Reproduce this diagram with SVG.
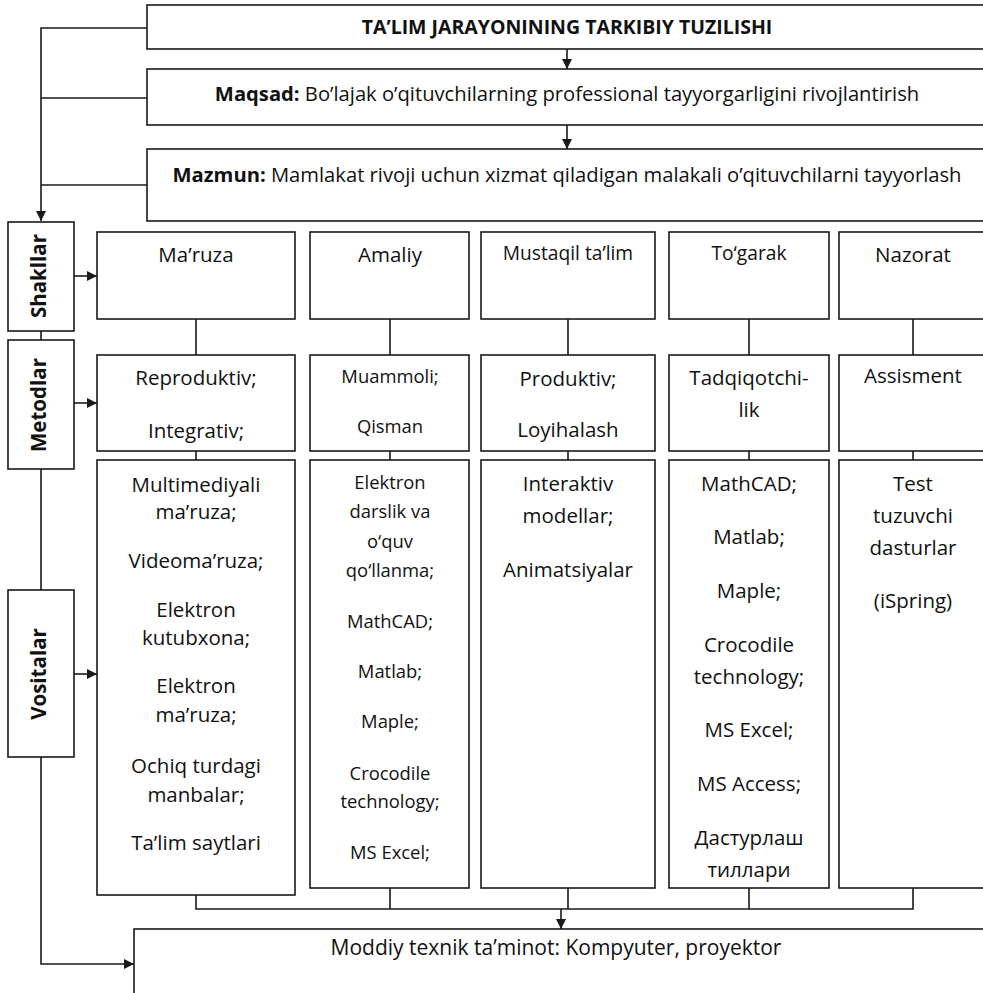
<svg xmlns="http://www.w3.org/2000/svg" width="983" height="993" viewBox="0 0 983 993">
<defs>
<marker id="ah" markerWidth="10" markerHeight="10" refX="10" refY="5" orient="auto" markerUnits="userSpaceOnUse" viewBox="0 0 10 10">
<path d="M0,0 L10,5 L0,10 z" fill="#1a1a1a"/>
</marker>
<style>
rect{fill:#fff;stroke:#1a1a1a;stroke-width:1.6}
.c{fill:none;stroke:#1a1a1a;stroke-width:1.6}
text{font-family:"Open Sans","Noto Sans","Liberation Sans",sans-serif;fill:#111;text-anchor:middle}
.t{font-size:20.5px}
.h{font-size:20.2px}
.s{font-size:18.4px}
.r{font-size:19.2px}
.b{font-weight:bold}
.l{font-size:20.5px;font-weight:bold}
</style>
</defs>
<rect width="983" height="993" style="fill:#fff;stroke:none"/>
<g id="connectors">
<path class="c" d="M147,28 H41 V221" marker-end="url(#ah)"/>
<path class="c" d="M147,98 H41"/>
<path class="c" d="M147,185 H41"/>
<path class="c" d="M567,49 V69" marker-end="url(#ah)"/>
<path class="c" d="M567,125 V149" marker-end="url(#ah)"/>
<path class="c" d="M41,331 V340"/>
<path class="c" d="M41,469 V590"/>
<path class="c" d="M41,757 V964 H134" marker-end="url(#ah)"/>
<path class="c" d="M74,276 H97" marker-end="url(#ah)"/>
<path class="c" d="M74,403 H97" marker-end="url(#ah)"/>
<path class="c" d="M74,674 H97" marker-end="url(#ah)"/>
<path class="c" d="M196,319 V355 M196,451 V460 M390,319 V355 M390,451 V460 M568,319 V355 M568,451 V460 M749,319 V355 M749,451 V460 M913,319 V355 M913,451 V460"/>
<path class="c" d="M196,895 V909 H913 V888 M390,888 V909 M568,888 V909 M749,888 V909"/>
<path class="c" d="M561,909 V929" marker-end="url(#ah)"/>
</g>
<g id="title">
<rect x="147" y="5" width="850" height="44"/>
<text class="b" x="567" y="34" style="font-size:19.5px">TA’LIM JARAYONINING TARKIBIY TUZILISHI</text>
</g>
<g id="maqsad">
<rect x="147" y="69" width="850" height="56"/>
<text class="h" x="567" y="101"><tspan class="b">Maqsad:</tspan> Bo’lajak o’qituvchilarning professional tayyorgarligini rivojlantirish</text>
</g>
<g id="mazmun">
<rect x="147" y="149" width="850" height="72"/>
<text class="h" x="567" y="182"><tspan class="b">Mazmun:</tspan> Mamlakat rivoji uchun xizmat qiladigan malakali o’qituvchilarni tayyorlash</text>
</g>
<g id="shakllar">
<rect x="8" y="222" width="66" height="109"/>
<text class="l" transform="translate(46,276) rotate(-90)">Shakllar</text>
</g>
<g id="metodlar">
<rect x="8" y="340" width="66" height="129"/>
<text class="l" transform="translate(46,405) rotate(-90)">Metodlar</text>
</g>
<g id="vositalar">
<rect x="8" y="590" width="66" height="167"/>
<text class="l" transform="translate(46,674) rotate(-90)">Vositalar</text>
</g>
<g id="maruza">
<rect x="97" y="232" width="198" height="87"/>
<text class="t" x="196" y="262">Ma’ruza</text>
</g>
<g id="amaliy">
<rect x="310" y="232" width="159" height="87"/>
<text class="t" x="390" y="262">Amaliy</text>
</g>
<g id="mustaqil">
<rect x="481" y="232" width="174" height="87"/>
<text class="r" x="568" y="260">Mustaqil ta’lim</text>
</g>
<g id="togarak">
<rect x="669" y="232" width="160" height="87"/>
<text class="r" x="749" y="260">To‘garak</text>
</g>
<g id="nazorat">
<rect x="839" y="232" width="155" height="87"/>
<text class="t" x="913" y="262">Nazorat</text>
</g>
<g id="m1">
<rect x="97" y="355" width="198" height="96"/>
<text class="t" x="196" y="385">Reproduktiv;</text>
<text class="t" x="196" y="438">Integrativ;</text>
</g>
<g id="m2">
<rect x="310" y="355" width="159" height="96"/>
<text class="s" x="390" y="383">Muammoli;</text>
<text class="s" x="390" y="433">Qisman</text>
</g>
<g id="m3">
<rect x="481" y="355" width="174" height="96"/>
<text class="t" x="568" y="386">Produktiv;</text>
<text class="t" x="568" y="437">Loyihalash</text>
</g>
<g id="m4">
<rect x="669" y="355" width="160" height="96"/>
<text class="t" x="749" y="385">Tadqiqotchi-</text>
<text class="t" x="749" y="417">lik</text>
</g>
<g id="m5">
<rect x="839" y="355" width="155" height="96"/>
<text class="t" x="913" y="383">Assisment</text>
</g>
<g id="v1">
<rect x="97" y="460" width="198" height="435"/>
<text class="t" x="196" y="492">Multimediyali</text>
<text class="t" x="196" y="519">ma’ruza;</text>
<text class="t" x="196" y="568">Videoma’ruza;</text>
<text class="t" x="196" y="617">Elektron</text>
<text class="t" x="196" y="645">kutubxona;</text>
<text class="t" x="196" y="693">Elektron</text>
<text class="t" x="196" y="722">ma’ruza;</text>
<text class="t" x="196" y="773">Ochiq turdagi</text>
<text class="t" x="196" y="802">manbalar;</text>
<text class="t" x="196" y="850">Ta’lim saytlari</text>
</g>
<g id="v2">
<rect x="310" y="460" width="159" height="428"/>
<text class="s" x="390" y="489">Elektron</text>
<text class="s" x="390" y="518">darslik va</text>
<text class="s" x="390" y="548">o‘quv</text>
<text class="s" x="390" y="577">qo‘llanma;</text>
<text class="s" x="390" y="628">MathCAD;</text>
<text class="s" x="390" y="678">Matlab;</text>
<text class="s" x="390" y="728">Maple;</text>
<text class="s" x="390" y="780">Crocodile</text>
<text class="s" x="390" y="808">technology;</text>
<text class="s" x="390" y="859">MS Excel;</text>
</g>
<g id="v3">
<rect x="481" y="460" width="174" height="428"/>
<text class="t" x="568" y="491">Interaktiv</text>
<text class="t" x="568" y="523">modellar;</text>
<text class="t" x="568" y="577">Animatsiyalar</text>
</g>
<g id="v4">
<rect x="669" y="460" width="160" height="428"/>
<text class="t" x="749" y="491">MathCAD;</text>
<text class="t" x="749" y="544">Matlab;</text>
<text class="t" x="749" y="598">Maple;</text>
<text class="t" x="749" y="652">Crocodile</text>
<text class="t" x="749" y="684">technology;</text>
<text class="t" x="749" y="737">MS Excel;</text>
<text class="t" x="749" y="791">MS Access;</text>
<text class="t" x="749" y="845">Дастурлаш</text>
<text class="t" x="749" y="877">тиллари</text>
</g>
<g id="v5">
<rect x="839" y="460" width="155" height="428"/>
<text class="t" x="913" y="491">Test</text>
<text class="t" x="913" y="523">tuzuvchi</text>
<text class="t" x="913" y="555">dasturlar</text>
<text class="t" x="913" y="608">(iSpring)</text>
</g>
<g id="moddiy">
<rect x="134" y="929" width="870" height="80"/>
<text class="t" x="556" y="955" style="font-size:21px">Moddiy texnik ta’minot: Kompyuter, proyektor</text>
</g>
</svg>
